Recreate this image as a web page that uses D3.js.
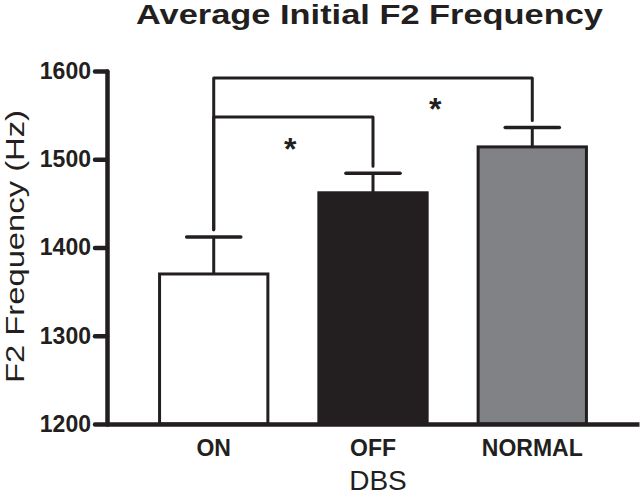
<!DOCTYPE html>
<html>
<head>
<meta charset="utf-8">
<script src="https://cdn.jsdelivr.net/npm/d3@7"></script>
<style>
  body { margin: 0; background: #fff; }
  text { font-family: "Liberation Sans", Arial, sans-serif; fill: #231f20; }
</style>
</head>
<body>
<script>
// data
var groups = ["ON", "OFF", "NORMAL"];
var means = [1370, 1462, 1514];
var sems = [42, 22, 22];
var fills = ["#ffffff", "#231f20", "#808285"];
var yTicks = [1200, 1300, 1400, 1500, 1600];
// significance brackets: [from, to, height of bar]
var brackets = [["ON", "OFF", 1548], ["ON", "NORMAL", 1592]];

var ink = "#231f20";
var W = 640, H = 495;

var svg = d3.select("body").append("svg")
  .attr("width", W)
  .attr("height", H);

// set the ranges
var x = d3.scaleBand().domain(groups).range([107, 639])
  .paddingInner(0.32).paddingOuter(0.33);
var y = d3.scaleLinear().domain([1200, 1600]).range([424, 71]);

// title
svg.append("text")
  .attr("x", 369.5).attr("y", 24)
  .attr("text-anchor", "middle")
  .attr("font-size", 27).attr("font-weight", "bold")
  .attr("textLength", 467).attr("lengthAdjust", "spacingAndGlyphs")
  .text("Average Initial F2 Frequency");

// bars
svg.selectAll("rect.bar")
  .data(groups)
  .enter().append("rect")
  .attr("class", "bar")
  .attr("x", function (d) { return x(d); })
  .attr("width", x.bandwidth())
  .attr("y", function (d, i) { return y(means[i]); })
  .attr("height", function (d, i) { return y(1200) - y(means[i]); })
  .attr("fill", function (d, i) { return fills[i]; })
  .attr("stroke", ink)
  .attr("stroke-width", 3);

// error bars (upper only)
var capW = x.bandwidth() / 2;
groups.forEach(function (g, i) {
  var cx = x(g) + x.bandwidth() / 2;
  svg.append("line")
    .attr("x1", cx).attr("x2", cx)
    .attr("y1", y(means[i])).attr("y2", y(means[i] + sems[i]))
    .attr("stroke", ink).attr("stroke-width", 3);
  svg.append("line")
    .attr("x1", cx - capW / 2).attr("x2", cx + capW / 2)
    .attr("y1", y(means[i] + sems[i])).attr("y2", y(means[i] + sems[i]))
    .attr("stroke", ink).attr("stroke-width", 3.5)
    .attr("stroke-linecap", "round");
});

// brackets with asterisks
var gap = 8;
brackets.forEach(function (b, k) {
  var i0 = groups.indexOf(b[0]), i1 = groups.indexOf(b[1]);
  var x0 = x(b[0]) + x.bandwidth() / 2, x1 = x(b[1]) + x.bandwidth() / 2;
  var line = d3.line();
  svg.append("path")
    .attr("d", line([
      [x0, y(means[i0] + sems[i0] + gap)],
      [x0, y(b[2])],
      [x1, y(b[2])],
      [x1, y(means[i1] + sems[i1] + gap)]
    ]))
    .attr("fill", "none")
    .attr("stroke", ink).attr("stroke-width", 3)
    .attr("stroke-linejoin", "round").attr("stroke-linecap", "round");
  // star: inner one centred, outer one right of centre
  var frac = k === 0 ? 0.48 : 0.695;
  var sy = k === 0 ? y(b[2]) + 26 : y(b[2]) + 25;
  svg.append("text")
    .attr("x", x0 + (x1 - x0) * frac)
    .attr("y", sy + 17)
    .attr("text-anchor", "middle")
    .attr("font-size", 32).attr("font-weight", "bold")
    .text("*");
});

// Add the Y Axis
var yAxis = svg.append("g")
  .attr("transform", "translate(107,0)")
  .call(d3.axisLeft(y).tickValues(yTicks).tickFormat(d3.format("d"))
    .tickSize(12).tickSizeOuter(0).tickPadding(4));
yAxis.selectAll("path, line")
  .attr("stroke", ink).attr("stroke-width", 4.5).attr("stroke-linecap", "round");
yAxis.selectAll("text")
  .attr("font-size", 23).attr("font-weight", "bold")
  .attr("font-family", "'Liberation Sans', Arial, sans-serif")
  .attr("fill", ink);

// Add the X Axis
var xAxis = svg.append("g")
  .attr("transform", "translate(0,424)")
  .call(d3.axisBottom(x).tickSize(0).tickSizeOuter(0).tickPadding(16));
xAxis.select(".domain")
  .attr("stroke", ink).attr("stroke-width", 4.5);
xAxis.selectAll("text")
  .attr("font-size", 23).attr("font-weight", "bold")
  .attr("font-family", "'Liberation Sans', Arial, sans-serif")
  .attr("fill", ink);

// axis titles
svg.append("text")
  .attr("x", 378).attr("y", 490)
  .attr("text-anchor", "middle")
  .attr("font-size", 28)
  .text("DBS");

svg.append("text")
  .attr("transform", "translate(24," + ((110 + 383) / 2) + ") rotate(-90)")
  .attr("text-anchor", "middle")
  .attr("font-size", 25)
  .attr("textLength", 273).attr("lengthAdjust", "spacingAndGlyphs")
  .text("F2 Frequency (Hz)");
</script>
</body>
</html>
